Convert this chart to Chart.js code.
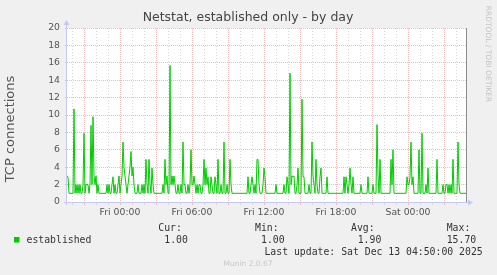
<!DOCTYPE html>
<html>
<head>
<meta charset="utf-8">
<title>Netstat, established only - by day</title>
<script src="https://cdn.jsdelivr.net/npm/chart.js@4.4.1/dist/chart.umd.min.js"></script>
<style>
  html, body { margin: 0; padding: 0; background: #f0f0f0; }
  #chart { display: block; }
</style>
</head>
<body>
<canvas id="chart" width="497" height="275"></canvas>
<script>
// 5 minute samples, Thu 19:35 .. Sat 04:50 (400 values)
const established = [
  3, 2.9, 1, 1, 1, 1, 1, 10.7, 1, 2,
  1, 2, 1, 2, 1, 1, 2, 7.9, 1, 2,
  2, 2, 1, 2, 8.8, 2, 9.8, 3, 2, 3,
  1, 2, 1, 1, 1, 1, 1, 1, 1, 1,
  2, 1, 2, 1, 1, 2, 2.9, 1, 2, 1,
  1, 2, 3, 1, 2, 3, 6.9, 4, 3, 2,
  1, 2, 3, 4, 5.8, 3, 4, 2, 1, 1,
  1, 2, 1, 1, 1, 2, 1, 2, 1, 4.9,
  2, 1, 4.9, 2, 1, 3.9, 2, 1, 1, 1,
  1, 1, 1, 1, 1, 1, 2, 1, 4.9, 2,
  3, 1, 1, 15.7, 2, 3, 2, 3, 2, 1,
  1, 2, 1, 1, 2, 1, 6.9, 2, 2, 1,
  1, 2, 1, 2, 6, 2, 2, 3, 2, 1,
  2, 1, 2, 2, 1, 1, 2, 4.9, 2, 3.9,
  2, 2.9, 1, 1, 2.9, 2, 1, 1, 2.9, 2,
  1, 4.9, 1, 1, 2, 1, 1, 6.9, 1, 1,
  2, 1, 1, 4.9, 2, 1, 1, 1, 1, 1,
  1, 1, 1, 1, 1, 1, 1, 1, 1, 1,
  1, 2.9, 1, 1, 2, 2.9, 2, 1, 2, 1,
  4.9, 4.9, 2, 1, 1, 1, 2, 3.9, 2.9, 1,
  1, 1, 1, 1, 1, 1, 1, 1, 1, 2,
  1, 1, 1, 1, 1, 1, 1, 2, 1, 1,
  2.9, 2, 1, 14.8, 2, 3, 2.9, 3, 1, 1,
  2, 3.9, 1, 1, 1, 11.8, 2.9, 2.9, 1, 1,
  1, 1, 2, 1, 1, 6.9, 3, 2, 1, 4.9,
  2, 1, 1, 2.9, 3.9, 1, 1, 1, 1, 1,
  2.9, 1, 1, 1, 1, 1, 1, 1, 1, 1,
  1, 1, 1, 1, 1, 1, 1, 2.9, 1, 2.9,
  2, 1, 2, 3.9, 2, 1, 2.9, 1, 1, 1,
  1, 1, 1, 1, 2, 1, 1, 1, 1, 1,
  1, 2.9, 1, 1, 1, 1, 2, 1, 1, 1,
  8.9, 3, 1, 4.9, 1, 1, 1, 1, 1, 1,
  1, 1, 1, 1, 4.9, 2, 6, 1, 1, 1,
  1, 1, 1, 1, 1, 1, 1, 1, 1, 1,
  2.9, 2, 2, 2.9, 6.9, 2, 2.9, 1, 1, 1,
  1, 1, 6, 1, 1, 7.9, 1, 1, 1, 2,
  1, 3.9, 1, 1, 1, 1, 1, 1, 1, 1,
  4.9, 1, 1, 1, 1, 1, 2, 1, 1, 2,
  2, 1, 2, 1, 2, 1, 4.9, 1, 1, 1,
  1, 6.9, 2, 1, 1, 1, 1, 1, 1, 1
];

// x tick labels and the sample they sit on
const tickLabels = ["Fri 00:00", "Fri 06:00", "Fri 12:00", "Fri 18:00", "Sat 00:00"];
const tickIndex = [53, 125, 197, 269, 341];

// legend
const legendHeads = ["Cur:", "Min:", "Avg:", "Max:"];
const legendValues = ["1.00", "1.00", "1.90", "15.70"];

const firstHour = 20;      // first full hour in the range (Thu 20:00)
const firstHourIndex = 5;  // its sample index

const hourTicks = [];
for (let i = firstHourIndex; i < established.length; i += 12) hourTicks.push(i);

function hourOf(idx) {
    return (firstHour + (idx - firstHourIndex) / 12) % 24;
}

const majorColor = "#ecbcbc";
const minorColor = "#d8d8d8";
const axisColor = "#c4caf2";

const points = established.map((v, i) => ({ x: i, y: v }));

const muninFrame = {
    id: "muninFrame",
    beforeDraw(chart) {
        const { ctx, chartArea: a } = chart;
        ctx.save();
        ctx.fillStyle = "#f0f0f0";
        ctx.fillRect(0, 0, chart.width, chart.height);
        ctx.fillStyle = "#ffffff";
        ctx.fillRect(a.left, a.top, a.right - a.left, a.bottom - a.top);
        ctx.restore();
    },
    beforeDatasetsDraw(chart) {
        const { ctx, chartArea: a } = chart;
        ctx.save();
        // right frame line
        ctx.strokeStyle = "#8c8c8c";
        ctx.lineWidth = 1;
        ctx.beginPath();
        ctx.moveTo(a.right + 0.5, a.top);
        ctx.lineTo(a.right + 0.5, a.bottom + 1);
        ctx.stroke();
        // axes with arrows
        ctx.strokeStyle = axisColor;
        ctx.fillStyle = axisColor;
        ctx.beginPath();
        ctx.moveTo(a.left - 0.5, a.bottom + 3);
        ctx.lineTo(a.left - 0.5, a.top - 4);
        ctx.moveTo(a.left - 3, a.bottom + 0.5);
        ctx.lineTo(a.right + 3, a.bottom + 0.5);
        ctx.stroke();
        ctx.beginPath();
        ctx.moveTo(a.left - 3.5, a.top - 3);
        ctx.lineTo(a.left + 2.5, a.top - 3);
        ctx.lineTo(a.left - 0.5, a.top - 8);
        ctx.closePath();
        ctx.fill();
        ctx.beginPath();
        ctx.moveTo(a.right + 2, a.bottom - 2.5);
        ctx.lineTo(a.right + 2, a.bottom + 3.5);
        ctx.lineTo(a.right + 7, a.bottom + 0.5);
        ctx.closePath();
        ctx.fill();
        ctx.restore();
    },
    afterDraw(chart) {
        const ctx = chart.ctx;
        ctx.save();
        ctx.textBaseline = "middle";

        // title
        ctx.fillStyle = "#444";
        ctx.font = "12.5px 'DejaVu Sans'";
        ctx.textAlign = "center";
        ctx.fillText("Netstat, established only - by day", 248, 18);

        // vertical axis label
        ctx.save();
        ctx.translate(11, 129);
        ctx.rotate(-Math.PI / 2);
        ctx.font = "13px 'DejaVu Sans'";
        ctx.fillStyle = "#555";
        ctx.fillText("TCP connections", 0, 0);
        ctx.restore();

        // rrdtool credit
        ctx.save();
        ctx.translate(488, 54);
        ctx.rotate(Math.PI / 2);
        ctx.font = "7.5px 'DejaVu Sans'";
        ctx.fillStyle = "#c4c4c4";
        ctx.fillText("RRDTOOL / TOBI OETIKER", 0, 0);
        ctx.restore();

        // legend
        ctx.fillStyle = "#00cc00";
        ctx.fillRect(14, 237, 5.5, 5.5);
        ctx.fillStyle = "#333";
        ctx.font = "9.8px 'DejaVu Sans Mono'";
        ctx.textAlign = "left";
        ctx.fillText("established", 26.5, 240);
        const headX = [158.3, 255, 351, 446.7];
        const valX = [164.3, 261, 357.7, 446.7];
        legendHeads.forEach((h, i) => ctx.fillText(h, headX[i], 228));
        legendValues.forEach((v, i) => ctx.fillText(v, valX[i], 240));
        ctx.textAlign = "right";
        ctx.fillText("Last update: Sat Dec 13 04:50:00 2025", 482.7, 252);

        ctx.textAlign = "center";
        ctx.font = "7.5px 'DejaVu Sans'";
        ctx.fillStyle = "#c8c8c8";
        ctx.fillText("Munin 2.0.67", 248, 264);
        ctx.restore();
    }
};

new Chart(document.getElementById("chart"), {
    type: "line",
    data: {
        datasets: [{
            label: "established",
            data: points,
            borderColor: "#00cc00",
            borderWidth: 1,
            pointRadius: 0,
            tension: 0,
            fill: false
        }]
    },
    options: {
        responsive: false,
        animation: false,
        devicePixelRatio: 1,
        events: [],
        layout: { padding: { left: 0, top: 28, right: 31, bottom: 0 } },
        plugins: {
            legend: { display: false },
            tooltip: { enabled: false },
            title: { display: false }
        },
        scales: {
            x: {
                type: "linear",
                min: 0,
                max: established.length - 1,
                afterFit: (scale) => { scale.height = 73; },
                afterBuildTicks: (scale) => {
                    scale.ticks = hourTicks.map(v => ({ value: v }));
                },
                border: {
                    display: false,
                    dash: (c) => (c.tick && hourOf(c.tick.value) % 3 === 0) ? [1, 1] : [1, 2]
                },
                grid: {
                    color: (c) => (c.tick && hourOf(c.tick.value) % 3 === 0) ? majorColor : minorColor,
                    tickColor: (c) => (c.tick && hourOf(c.tick.value) % 3 === 0) ? majorColor : minorColor,
                    tickLength: 3,
                    tickBorderDash: []
                },
                ticks: {
                    autoSkip: false,
                    maxRotation: 0,
                    minRotation: 0,
                    padding: 2,
                    color: "#555",
                    font: { family: "'DejaVu Sans'", size: 9.3 },
                    callback: (value) => {
                        const k = tickIndex.indexOf(value);
                        return k >= 0 ? tickLabels[k] : "";
                    }
                }
            },
            y: {
                min: 0,
                max: 20,
                afterFit: (scale) => { scale.width = 67; },
                border: {
                    display: false,
                    dash: (c) => (c.tick && c.tick.value % 2 === 0) ? [1, 1] : [1, 2]
                },
                grid: {
                    color: (c) => (c.tick && c.tick.value % 2 === 0) ? majorColor : minorColor,
                    tickColor: (c) => (c.tick && c.tick.value % 2 === 0) ? majorColor : minorColor,
                    tickLength: 2,
                    tickBorderDash: []
                },
                ticks: {
                    stepSize: 1,
                    padding: 5,
                    color: "#555",
                    font: { family: "'DejaVu Sans'", size: 9.3 },
                    callback: (value) => value % 2 === 0 ? String(value) : ""
                }
            }
        }
    },
    plugins: [muninFrame]
});
</script>
</body>
</html>
